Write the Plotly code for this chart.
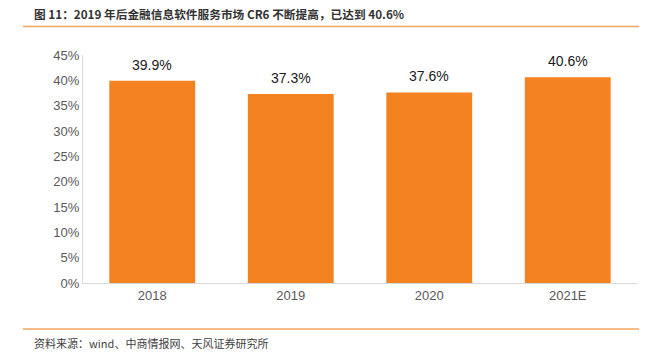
import plotly.graph_objects as go

categories = ["2018", "2019", "2020", "2021E"]
values = [39.9, 37.3, 37.6, 40.6]
labels = ["39.9%", "37.3%", "37.6%", "40.6%"]
tick_vals = [0, 5, 10, 15, 20, 25, 30, 35, 40, 45]
tick_text = [f"{v}%" for v in tick_vals]

title_text = "图 11：2019 年后金融信息软件服务市场 CR6 不断提高，已达到 40.6%"
source_text = "资料来源：wind、中商情报网、天风证券研究所"

W, H = 649, 354
ml, mr, mt, mb = 83, 12, 55, 71

fig = go.Figure()
fig.add_trace(go.Bar(
    x=categories, y=values, marker=dict(color="#F58220", line=dict(width=0)),
    width=0.62, hoverinfo="skip",
))
for i, (v, t) in enumerate(zip(values, labels)):
    fig.add_annotation(x=i, y=v, text=t, showarrow=False, yanchor="bottom", yshift=6,
                       font=dict(family="Liberation Sans, Arial", size=14, color="#1a1a1a"))

def px(x):
    return (x - ml) / (W - ml - mr)
def py(y):
    return (H - mb - y) / (H - mt - mb)

fig.add_annotation(xref="paper", yref="paper", x=px(32), y=py(13.5), text="<b>" + title_text + "</b>",
                   showarrow=False, xanchor="left", yanchor="middle",
                   font=dict(family="Noto Sans CJK SC", size=11.7, color="#333333"))
fig.add_annotation(xref="paper", yref="paper", x=px(32), y=py(343), text=source_text,
                   showarrow=False, xanchor="left", yanchor="middle",
                   font=dict(family="Noto Sans CJK SC", size=11, color="#404040"))

fig.add_shape(type="line", xref="paper", yref="paper", x0=px(23), x1=px(639), y0=py(26.5), y1=py(26.5),
              line=dict(color="#F4A460", width=1.5))
fig.add_shape(type="line", xref="paper", yref="paper", x0=px(23), x1=px(639), y0=py(329), y1=py(329),
              line=dict(color="#F4A460", width=1.5))

fig.update_layout(
    width=W, height=H, margin=dict(l=ml, r=mr, t=mt, b=mb),
    plot_bgcolor="white", paper_bgcolor="white", showlegend=False, bargap=0.38,
    xaxis=dict(type="category", range=[-0.5, len(categories) - 0.5], showline=True,
               linecolor="#d9d9d9", linewidth=1, ticks="", showgrid=False,
               tickfont=dict(family="Liberation Sans, Arial", size=13, color="#595959")),
    yaxis=dict(range=[0, 45], tickvals=tick_vals, ticktext=tick_text, showgrid=False, zeroline=False,
               showline=True, linecolor="#d9d9d9", linewidth=1, ticks="",
               tickfont=dict(family="Liberation Sans, Arial", size=13, color="#595959")),
)
fig.write_html("out.html")
